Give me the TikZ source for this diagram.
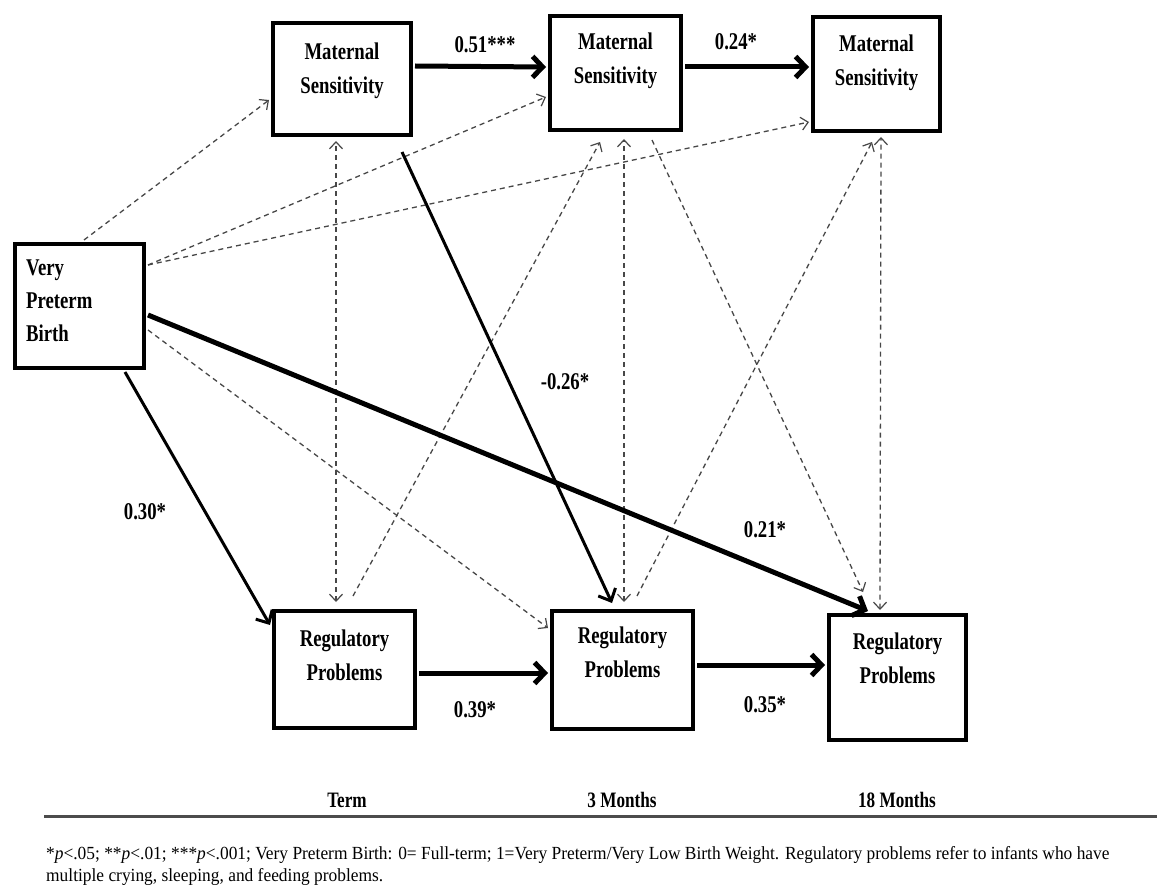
\documentclass[tikz,border=0pt]{standalone}
\usepackage{fontspec}
\setmainfont{Liberation Serif}[FakeStretch=0.78]
\newfontfamily\notefont{Liberation Serif}[FakeStretch=0.94]
\usetikzlibrary{arrows.meta,calc}
\begin{document}
\begin{tikzpicture}[x=1pt,y=-1pt,
  box/.style={draw, line width=4pt, inner sep=0pt},
  btxt/.style={font=\fontsize{24}{34}\selectfont\bfseries, align=center, anchor=north, inner sep=0pt},
  coef/.style={font=\fontsize{24}{28}\selectfont\bfseries, inner sep=0pt},
  thickarr/.style={line width=5pt, -{Straight Barb[length=10pt,width=21pt]}},
  medarr/.style={line width=3pt, -{Straight Barb[length=10pt,width=19pt]}},
  dasharr/.style={draw=black!72, line width=1.3pt, dash pattern=on 5pt off 4pt, -{Straight Barb[length=7pt,width=13pt,line width=1.2pt]}},
  dashboth/.style={draw=black!72, line width=1.3pt, dash pattern=on 5pt off 4pt, {Straight Barb[length=7pt,width=13pt,line width=1.2pt]}-{Straight Barb[length=7pt,width=13pt,line width=1.2pt]}},
]
\useasboundingbox (0,0) rectangle (1157,896);

% boxes
\node[box, minimum width=138pt, minimum height=112pt] (ms1) at (342,79) {};
\node[box, minimum width=131pt, minimum height=114pt] (ms2) at (615.5,73) {};
\node[box, minimum width=127pt, minimum height=114pt] (ms3) at (876.5,74) {};
\node[box, minimum width=129pt, minimum height=124pt] (vpb) at (79.5,306) {};
\node[box, minimum width=141pt, minimum height=117pt] (rp1) at (344.5,669.5) {};
\node[box, minimum width=141pt, minimum height=118pt] (rp2) at (622.5,670) {};
\node[box, minimum width=137pt, minimum height=125pt] (rp3) at (897.5,677.5) {};

% box texts
\node[btxt] (ms1t) at ($(ms1.north)+(0,22)$) {Maternal\\Sensitivity};
\node[btxt] (ms2t) at ($(ms2.north)+(0,19)$) {Maternal\\Sensitivity};
\node[btxt] (ms3t) at ($(ms3.north)+(0,20)$) {Maternal\\Sensitivity};
\node[btxt, align=left, anchor=north west, font=\fontsize{24}{33}\selectfont\bfseries] (vpbt) at ($(vpb.north west)+(13,18)$) {Very\\Preterm\\Birth};
\node[btxt] (rp1t) at ($(rp1.north)+(0,21)$) {Regulatory\\Problems};
\node[btxt] (rp2t) at ($(rp2.north)+(0,18)$) {Regulatory\\Problems};
\node[btxt] (rp3t) at ($(rp3.north)+(0,20)$) {Regulatory\\Problems};

% dashed paths
\draw[dasharr] ($(vpb.north)+(4.5,-2)$) -- ($(ms1.west)+(-2,21)$);
\draw[dasharr] ($(vpb.east)+(2,-41)$) -- ($(ms2.west)+(-2,24)$);
\draw[dasharr] ($(vpb.east)+(2,-41)$) -- ($(ms3.west)+(-2,48)$);
\draw[dasharr] ($(vpb.east)+(2,24)$) -- ($(rp2.west)+(-2,-42)$);
\draw[dashboth] ($(rp1.north)+(-8.5,-7)$) -- ($(ms1.south)+(-6,4)$);
\draw[dasharr] ($(rp1.north)+(8.5,-13)$) -- ($(ms2.south)+(-15.5,10)$);
\draw[dashboth] ($(rp2.north)+(1.5,-7)$) -- ($(ms2.south)+(8.5,7)$);
\draw[dasharr] ($(rp2.north)+(14.5,-13)$) -- ($(ms3.south)+(-4.5,9)$);
\draw[dasharr] ($(ms2.south)+(36.5,8)$) -- ($(rp3.north)+(-34.5,-21)$);
\draw[dashboth] ($(rp3.north)+(-17.5,-3)$) -- ($(ms3.south)+(4.5,4)$);

% solid paths
\draw[thickarr] ($(ms1.east)+(2,-13)$) -- ($(ms2.west)+(-2,-6)$);
\draw[thickarr] ($(ms2.east)+(2,-6)$) -- ($(ms3.west)+(-2,-7)$);
\draw[thickarr] ($(rp1.east)+(2,3.5)$) -- ($(rp2.west)+(-2,3)$);
\draw[thickarr] ($(rp2.east)+(2,-5)$) -- ($(rp3.west)+(-2,-12.5)$);
\draw[thickarr] ($(vpb.east)+(2,9)$) -- ($(rp3.north)+(-29.5,-2)$);
\draw[medarr] ($(vpb.south)+(45.5,2)$) -- ($(rp1.west)+(-2,-44.5)$);
\draw[medarr] ($(ms1.south)+(60,15)$) -- ($(rp2.north)+(-10.5,-6)$);

% coefficients
\node[coef] (c1) at (485,45) {0.51***};
\node[coef] (c2) at (736,42) {0.24*};
\node[coef] (c3) at (565,382) {-0.26*};
\node[coef] (c4) at (145,512) {0.30*};
\node[coef] (c5) at (765,530) {0.21*};
\node[coef] (c6) at (475,710) {0.39*};
\node[coef] (c7) at (765,705) {0.35*};

% time labels
\node[coef, font=\fontsize{22}{26}\selectfont\bfseries] (t1) at (347,800) {Term};
\node[coef, font=\fontsize{22}{26}\selectfont\bfseries] (t2) at (622,800) {3 Months};
\node[coef, font=\fontsize{22}{26}\selectfont\bfseries] (t3) at (897,800) {18 Months};
\draw[line width=3pt, black!70] (44,816) -- (1157,816);

% footnote
\node[anchor=north west, align=left, inner sep=0pt, font=\notefont\fontsize{18.5}{22}\selectfont] (fn) at (46,846)
  {*\textit{p}<.05; **\textit{p}<.01; ***\textit{p}<.001; Very Preterm Birth: 0= Full-term; 1=Very Preterm/Very Low Birth Weight. Regulatory problems refer to infants who have\\multiple crying, sleeping, and feeding problems.};
\end{tikzpicture}
\end{document}
